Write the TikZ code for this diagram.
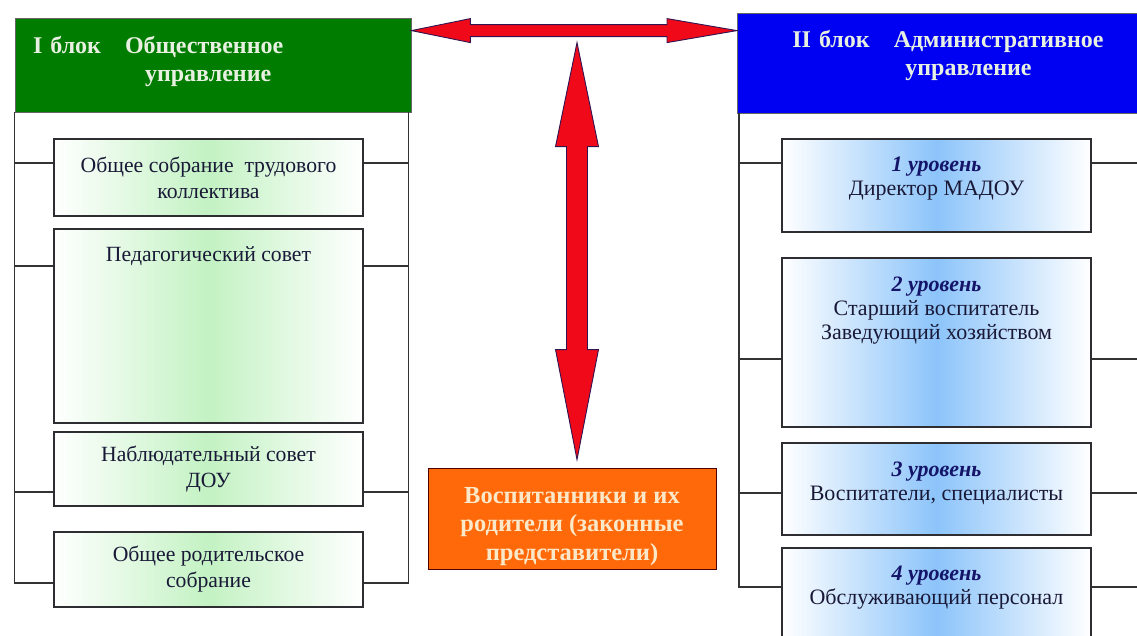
\documentclass[tikz,border=0pt]{standalone}
\usepackage{fontspec}
\setmainfont{Liberation Serif}
\usetikzlibrary{positioning,calc}

\definecolor{hdgreen}{RGB}{0,125,0}
\definecolor{hdblue}{RGB}{0,0,242}
\definecolor{hdtext}{RGB}{232,240,225}
\definecolor{boxline}{RGB}{45,45,50}
\definecolor{boxtext}{RGB}{25,25,55}
\definecolor{boxgreen}{RGB}{195,242,195}
\definecolor{boxblue}{RGB}{140,196,250}
\definecolor{lvlblue}{RGB}{20,20,105}
\definecolor{ppor}{RGB}{255,105,10}
\definecolor{ppcream}{RGB}{250,232,200}
\definecolor{arrred}{RGB}{240,10,25}
\definecolor{arrline}{RGB}{50,20,80}

\newcommand{\levelname}[1]{\textcolor{lvlblue}{\textbf{\textit{#1}}}}

\tikzset{
  hdr/.style={draw=black!60, line width=0.8pt, align=left, text=hdtext,
    font=\fontsize{24}{28}\selectfont\bfseries},
  gbox/.style={draw=boxline, line width=1.5pt, minimum width=309pt,
    left color=white, right color=white, middle color=boxgreen,
    align=center, text=boxtext, font=\fontsize{21.7}{26}\selectfont},
  bbox/.style={gbox, middle color=boxblue},
  btext/.style={align=center, text=boxtext, inner sep=0pt,
    font=\fontsize{21.7}{26}\selectfont},
  rtext/.style={btext, font=\fontsize{22}{24}\selectfont},
  obox/.style={draw=black!70!red, line width=0.8pt, fill=ppor,
    minimum width=288pt, minimum height=101pt},
  otext/.style={align=center, text=ppcream, inner sep=0pt,
    font=\fontsize{24.5}{28.5}\selectfont\bfseries},
  frameline/.style={line width=1.3pt, draw=black!80},
  redarrow/.style={fill=arrred, draw=arrline, line width=0.9pt, line join=miter},
}

\begin{document}
\begin{tikzpicture}[x=1pt,y=1pt]
  \clip (0,0) rectangle (1137,635);

  % block headers
  \node[hdr, fill=hdgreen, inner xsep=18pt, text width=360pt, minimum height=94pt, text depth=41pt] (gh) at (213,570)
    {I блок\quad Общественное\\\hspace*{112pt}управление};
  \node[hdr, fill=hdblue, anchor=west, inner xsep=55pt, text width=340pt, minimum height=100pt, text depth=49pt] (bh) at (737,572)
    {II блок\quad Административное\\\hspace*{113pt}управление};

  % I block
  \node[gbox, minimum height=77pt] (l1) at (208.5,457.5) {Общее собрание~ трудового\\коллектива};
  \node[gbox, minimum height=194pt] (l2) at (208.5,309) {};
  \node[btext, below=18pt of l2.north] (l2t) {Педагогический совет};
  \node[gbox, minimum height=74pt] (l3) at (208.5,166) {Наблюдательный совет\\ДОУ};
  \node[gbox, minimum height=75pt] (l4) at (208.5,65.5) {Общее родительское\\собрание};

  % II block
  \node[bbox, minimum height=93pt] (r1) at (936.5,449.5) {};
  \node[rtext, below=19pt of r1.north] (r1t) {\levelname{1 уровень}\\Директор МАДОУ};
  \node[bbox, minimum height=169pt] (r2) at (936.5,292.5) {};
  \node[rtext, below=19pt of r2.north] (r2t)
    {\levelname{2 уровень}\\Старший воспитатель\\Заведующий хозяйством};
  \node[bbox, minimum height=92pt] (r3) at (936.5,146) {};
  \node[rtext, below=19pt of r3.north] (r3t) {\levelname{3 уровень}\\Воспитатели, специалисты};
  \node[bbox, minimum height=92pt] (r4) at (936.5,41) {};
  \node[rtext, below=19pt of r4.north] (r4t) {\levelname{4 уровень}\\Обслуживающий персонал};

  % pupils and parents
  \node[obox] (pp) at (572,116.5) {};
  \node[otext] (ppt) at ([yshift=-8pt]pp.center) {Воспитанники и их\\родители (законные\\представители)};

  % frames
  \coordinate (lfl) at (gh.south west);
  \coordinate (lfr) at ([xshift=-3pt]gh.south east);
  \coordinate (rfl) at ([xshift=2pt]bh.south west);
  \coordinate (rfr) at (1140,522);
  \draw[frameline] (lfl) |- ([yshift=-13.5pt]l4.west);
  \draw[frameline] (lfr) |- ([yshift=-13.5pt]l4.east);
  \foreach \b/\s in {l1/14.5, l2/60, l3/-23}
    \draw[frameline] ([yshift=\s pt]\b.west) coordinate (c) -- (c -| lfl)
      ([yshift=\s pt]\b.east) coordinate (d) -- (d -| lfr);
  \draw[frameline] (rfl) |- ([yshift=7pt]r4.west);
  \draw[frameline] (rfr) |- ([yshift=7pt]r4.east);
  \foreach \b/\s in {r1/22.5, r2/-16.5, r3/-4}
    \draw[frameline] ([yshift=\s pt]\b.west) coordinate (c) -- (c -| rfl)
      ([yshift=\s pt]\b.east) coordinate (d) -- (d -| rfr);

  % red double arrows
  \coordinate (hl) at ([yshift=-13pt]gh.north east);
  \coordinate (hr) at (bh.west |- hl);
  \filldraw[redarrow] (hl) -- ++(59,12) -- ++(0,-6) -- ($(hr)+(-70,6)$) -- ++(0,6) -- (hr)
    -- ++(-70,-12) -- ++(0,6) -- ($(hl)+(59,-6)$) -- ++(0,-6) -- cycle;
  \coordinate (vb) at ([shift={(5pt,8pt)}]pp.north);
  \coordinate (vt) at ([yshift=-12pt]hl -| vb);
  \filldraw[redarrow] (vt) -- ++(21.5,-104) -- ++(-11,0) -- ($(vb)+(10.5,110)$) -- ++(11,0) -- (vb)
    -- ++(-21.5,110) -- ++(11,0) -- ($(vt)+(-10.5,-104)$) -- ++(-11,0) -- cycle;
\end{tikzpicture}
\end{document}
